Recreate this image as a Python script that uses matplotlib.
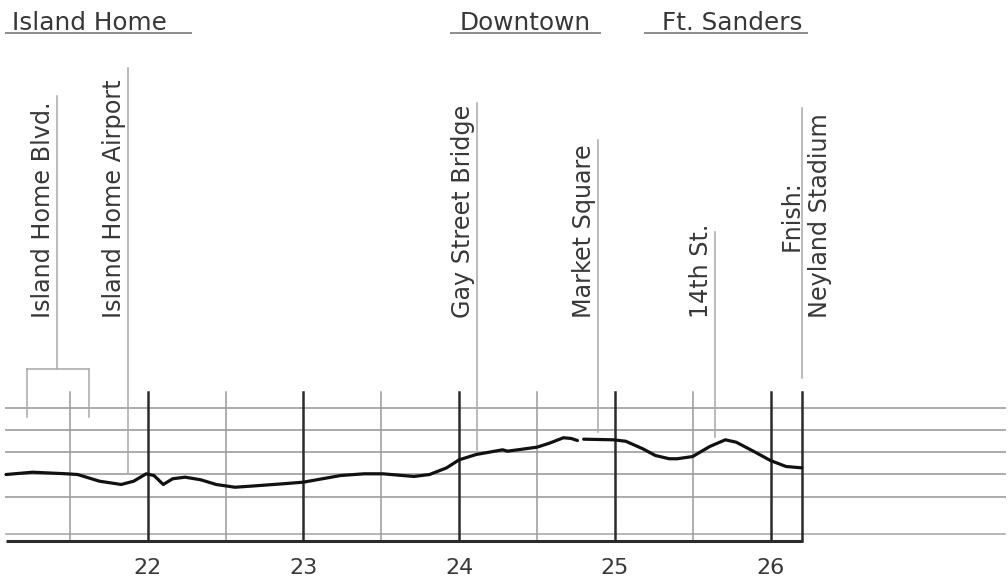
import numpy as np
import matplotlib.pyplot as plt

# course profile, mile 21 to finish (elevation in ft)
miles = [21.09, 21.26, 21.48, 21.55, 21.69, 21.83, 21.91, 21.99, 22.04, 22.10,
         22.16, 22.24, 22.34, 22.44, 22.56, 22.66, 22.87, 23.00, 23.24, 23.39,
         23.51, 23.71, 23.81, 23.92, 24.00, 24.11, 24.28, 24.31, 24.50, 24.58,
         24.67, 24.72, 24.76, 24.78, 24.80, 24.99, 25.07, 25.18, 25.26, 25.35,
         25.40, 25.50, 25.61, 25.71, 25.78, 25.89, 26.00, 26.10, 26.20]
elev = [874.7, 877.3, 875.5, 874.7, 867.2, 863.5, 867.2, 875.5, 873.6, 863.5,
        869.9, 871.7, 868.8, 863.5, 860.4, 861.6, 864.3, 866.1, 873.6, 875.5,
        875.5, 872.5, 874.7, 882.2, 891.2, 897.2, 902.5, 900.9, 905.4, 909.9,
        916.0, 915.2, 912.9, np.nan, 914.4, 913.7, 912.1, 903.6, 896.1, 892.4,
        892.4, 894.9, 906.2, 913.7, 911.0, 900.9, 890.4, 883.7, 882.2]

mile_marks = [22, 23, 24, 25, 26]
half_marks = [21.5, 22.5, 23.5, 24.5, 25.5]
elev_lines = [850, 875, 900, 925, 950]
finish = 26.2

landmarks = ["Island Home Airport", "Gay Street Bridge", "Market Square", "14th St."]
landmark_miles = [21.873, 24.113, 24.894, 25.643]
landmark_tops = [68, 103, 140, 232]      # px rows where the leader starts
landmark_bottoms = [473, 450, 432, 437]  # px rows where the leader ends

blvd_label = "Island Home Blvd."
blvd_range = (21.225, 21.625)
blvd_mile = 21.418

regions = ["Island Home", "Downtown", "Ft. Sanders"]
region_start = [21.09, 23.946, 25.194]
region_end = [22.276, 24.905, 26.232]
region_text = [21.128, 24.006, 25.300]

TXT = "#383838"
GRID = "#ababab"
DARK = "#2b2b2b"
LEAD = "#a8a8a8"

W, H = 1008, 585
PX_MILE = 155.7
fig = plt.figure(figsize=(W / 100, H / 100), dpi=100)
AX_H = 541
ax = fig.add_axes([0, (H - AX_H) / H, 1, AX_H / H])
ax.set_xlim(22 - 147.7 / PX_MILE, 22 + 860.3 / PX_MILE)
ax.set_ylim(800, 800 + AX_H / 0.89)
for s in ax.spines.values():
    s.set_visible(False)
ax.set_yticks([])
ax.set_xticks(mile_marks)
ax.set_xticklabels([str(m) for m in mile_marks], fontsize=16, color=TXT)
ax.tick_params(axis="x", length=0, pad=12)

xt = ax.get_xaxis_transform()


def fy(py):
    # pixel row (from top of figure) -> axes fraction
    return (AX_H - py) / AX_H


left = 21.09
right = 22 + (1005 - 147.7) / PX_MILE

# horizontal elevation lines
for e in elev_lines:
    ax.plot([left, right], [e, e], color=GRID, lw=1.4, zorder=1)
ax.plot([left, right], [807.5, 807.5], color=GRID, lw=1.2, zorder=1)

# vertical mile lines
vtop = 800 + (541 - 392) / 0.89
for m in half_marks:
    ax.plot([m, m], [800, vtop], color="#9a9a9a", lw=1.1, zorder=1)
for m in mile_marks:
    ax.plot([m, m], [800, vtop], color=DARK, lw=1.8, zorder=2)
ax.plot([finish, finish], [800, vtop], color=DARK, lw=1.8, zorder=2, clip_on=False)
ax.plot([left, finish], [800, 800], color=DARK, lw=2.2, zorder=2, clip_on=False,
        solid_capstyle="butt")

# profile
ax.plot(miles, elev, color="#111111", lw=2.3, zorder=3, solid_capstyle="round",
        solid_joinstyle="round")

# landmark leaders and labels
for name, m, t, b in zip(landmarks, landmark_miles, landmark_tops, landmark_bottoms):
    ax.plot([m, m], [fy(t), fy(b)], transform=xt, color=LEAD, lw=1.1, clip_on=False)
    ax.text(m - 2 / PX_MILE, fy(318), name, transform=xt, rotation=90, ha="right",
            va="bottom", fontsize=17.2, color=TXT)

# Island Home Blvd. bracket
ax.plot([blvd_mile, blvd_mile], [fy(96), fy(369)], transform=xt, color=LEAD, lw=1.1)
ax.plot([blvd_range[0], blvd_range[1]], [fy(369), fy(369)], transform=xt, color=LEAD, lw=1.1)
for m in blvd_range:
    ax.plot([m, m], [fy(369), fy(417)], transform=xt, color=LEAD, lw=1.1)
ax.text(blvd_mile - 2 / PX_MILE, fy(318), blvd_label, transform=xt, rotation=90,
        ha="right", va="bottom", fontsize=17.2, color=TXT)

# finish
ax.plot([finish, finish], [fy(108), fy(378)], transform=xt, color=LEAD, lw=1.1)
ax.text(finish + 4 / PX_MILE, fy(318), "Fnish:\nNeyland Stadium", transform=xt,
        rotation=90, ha="center", va="bottom", fontsize=17.2, color=TXT,
        linespacing=1.22)

# neighbourhood headers
for name, a, b, tx in zip(regions, region_start, region_end, region_text):
    ax.plot([a, b], [fy(33), fy(33)], transform=xt, color="#8c8c8c", lw=1.4, clip_on=False)
    ax.text(tx, fy(30), name, transform=xt, ha="left", va="baseline",
            fontsize=17.8, color=TXT)

fig.savefig("out.png", dpi=100)
